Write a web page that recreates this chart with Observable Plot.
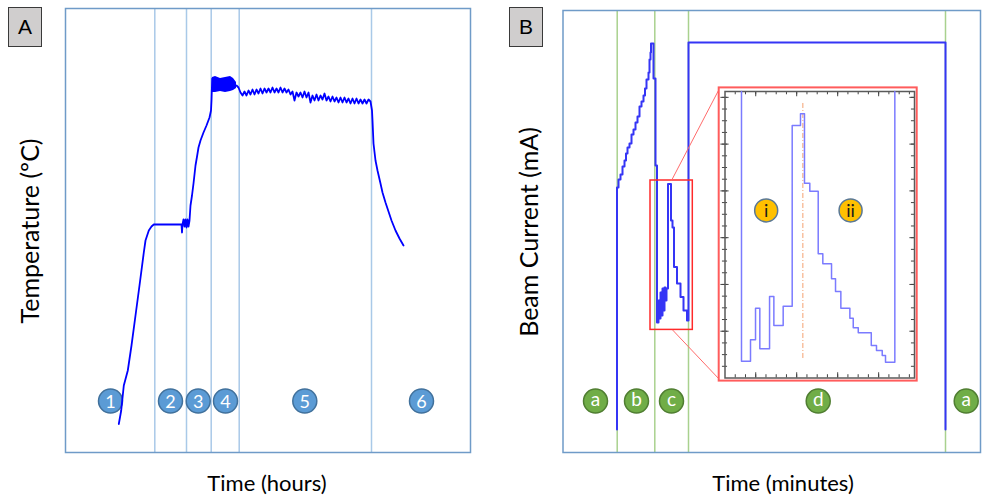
<!DOCTYPE html>
<html><head><meta charset="utf-8">
<script src="https://cdn.jsdelivr.net/npm/d3@7"></script>
<script src="https://cdn.jsdelivr.net/npm/@observablehq/plot@0.6"></script>
<style>
body{margin:0;background:#fff;}
#wrap{position:relative;width:983px;height:495px;overflow:hidden;font-family:Lato,"Open Sans",sans-serif;color:#000;}
#wrap svg{position:absolute;left:0;top:0;}
.lbl{position:absolute;white-space:nowrap;font-size:22px;transform:translate(-50%,-50%);}
.rot{transform:translate(-50%,-50%) rotate(-90deg);font-size:25px;}
.panel{position:absolute;box-sizing:border-box;width:34px;height:40px;border:1.5px solid #3a3a3a;background:#d0cece;font-size:21px;text-align:center;line-height:37px;font-family:"Liberation Sans",Arial,sans-serif;}
</style></head><body>
<div id="wrap"></div>
<script>
// ---------- Panel A : temperature vs time (hours) ----------
const tempHours = [1.066,1.114,1.166,1.246,1.32,1.40,1.48,1.566,1.60,1.666,1.72,1.766,
  2.32,2.33,2.34,2.36,2.38,2.40,2.42,2.44,2.46,2.48,
  2.50,2.53,2.56,2.60,2.634,2.66,2.70,2.76,2.82,2.88,2.91,2.92,2.934,
  3.42,3.46,3.50,3.54,
  3.58,3.62,3.66,3.70,3.74,3.78,3.82,3.86,3.90,3.94,3.98,4.02,4.06,4.10,4.14,4.18,
  4.22,4.26,4.30,4.34,4.38,4.42,4.46,4.50,4.54,4.58,4.62,4.66,4.70,4.74,4.78,4.82,
  4.86,4.90,4.94,4.98,5.02,5.06,5.10,5.14,5.18,5.22,5.26,5.30,5.34,5.38,5.42,5.46,
  5.50,5.54,5.58,5.62,5.66,5.70,5.74,5.78,5.82,5.86,5.90,5.94,5.98,6.02,6.06,6.10,
  6.13,6.14,6.16,6.20,6.24,6.30,6.34,6.40,6.46,6.52,6.60,6.68,6.76];
const tempValues = [57,84,134,164,214,274,334,400,424,444,452,456,
  456,440,456,466,452,466,450,466,452,464,
  494,514,538,574,594,610,624,640,654,670,684,704,748,
  734,730,720,714,
  722,714,724,716,726,716,726,718,728,718,728,720,728,720,730,720,
  728,720,730,720,728,720,726,716,722,704,720,712,720,710,722,710,
  720,700,714,704,716,704,714,706,718,704,712,702,712,702,710,700,
  710,700,710,700,708,698,708,698,708,698,706,698,706,698,706,702,
  684,664,618,584,564,538,520,500,482,464,444,428,414];
// fluctuating hold at peak temperature (envelope)
const bandHours = [2.94,3.00,3.10,3.20,3.30,3.36,3.42];
const bandLow   = [720,720,722,720,722,724,728];
const bandHigh  = [750,752,748,750,752,748,740];
const phaseHoursA = [1.786,2.42,2.914,3.474,6.12];
const stageLabelsA = ["1","2","3","4","5","6"];
const stageHoursA = [0.90,2.10,2.654,3.20,4.786,7.12];
const stageTempA = 103;

// ---------- Panel B : beam current vs time (minutes) ----------
const beamMinutes = [10.8,10.8,11.1,11.5,11.9,12.3,12.6,12.9,13.3,13.7,14.1,14.5,14.9,15.3,15.7,16.1,16.4,16.7,17.1,17.3,17.5,17.6,
  18.1,18.5,18.8,19.1,19.3,19.5,19.7,19.9,20.1,20.3,20.5,20.7,
  21.0,21.6,21.9,22.2,22.8,23.5,24.1,24.8,25.1,76.5];
const beamCurrent = [0,60.5,62.5,63.75,65.75,67.25,69,70.5,71.5,73.75,75,76.75,78.25,80.75,82,83.5,85.25,87.5,89.25,92.5,94.25,96.5,
  87.75,66,26.75,32.25,27.75,34.25,28.5,35.25,29.75,35.5,32.25,35.25,
  61.4,52.25,50.5,40.6,36.5,33.1,29.75,27.25,96.75,0];
const phaseMinutesB = [10.84,18.36,25.1,76.5];
const stageLabelsB = ["a","b","c","d","a"];
const stageMinutesB = [6.5,14.7,21.7,51.04,80.64];
const stageCurrentB = 7.1;
const zoomMinutes = [17.5,25.96];
const zoomCurrent = [24.9,62.25];
const connectorFromMinutes = [21.7,21.9];
const connectorFromCurrent = [62.25,24.9];
const connectorToMinutes = [31.3,31.3];
const connectorToCurrent = [85.25,12.5];
const insetBoxMinutes = [31.24,70.84];
const insetBoxCurrent = [12.1,85.4];

// ---------- Inset (zoom of region c) ----------
const insetTime = [1.61,1.61,2.49,2.98,3.40,4.35,4.77,5.68,6.56,7.37,7.76,8.28,9.10,9.55,10.40,10.79,11.31,12.19,12.52,13.01,14.28,14.79,15.35,15.67,16.58,16.58];
const insetCurrent = [24.5,1.44,3.27,5.97,2.50,6.97,4.49,6.14,21.60,22.60,16.66,15.98,10.62,9.77,8.49,7.40,5.97,5.12,4.29,3.87,2.78,2.35,1.92,1.35,1.35,24.5];
const insetCentreTime = [7.60];
const insetCentreSpan = [1.67,23.48];
const insetStageLabels = ["i","ii"];
const insetStageTime = [4.02,12.26];
const insetStageLevel = 14.33;
const insetMinorX = [1,2,3,4,5,6,7,8,9,10,11,12,13,14,15,16,17,18];
const insetMajorX = [3,7,11,15];
const insetMinorY = [1,2,3,4,5,6,7,8,9,10,11,12,13,14,15,16,17,18,19,20,21,22,23,24];
const insetMajorY = [4,8,12,16,20,24];

const W = 983, H = 495;
const common = {background: "transparent", overflow: "visible", fontFamily: "Lato, 'Open Sans', sans-serif"};
const wrap = document.getElementById("wrap");

const plotA = Plot.plot({
  width: W, height: H, marginLeft: 65, marginRight: 513, marginTop: 8, marginBottom: 43,
  x: {domain: [0, 8.1], axis: null}, y: {domain: [0, 888], axis: null},
  style: common,
  marks: [
    Plot.ruleX(phaseHoursA, {stroke: "#a9c9e8", strokeWidth: 1.5}),
    Plot.frame({stroke: "#6f9bc8", strokeWidth: 1.5}),
    Plot.dot(stageLabelsA, {x: (d,i) => stageHoursA[i], y: () => stageTempA, r: 12, fill: "#5B9BD5", stroke: "#41719C", strokeWidth: 1.5}),
    Plot.text(stageLabelsA, {x: (d,i) => stageHoursA[i], y: () => stageTempA, text: d => d, fill: "white", fontSize: 18, dy: 1}),
    Plot.areaY(bandLow, {x: (d,i) => bandHours[i], y1: d => d, y2: (d,i) => bandHigh[i], fill: "#0000ff"}),
    Plot.line(tempValues, {x: (d,i) => tempHours[i], y: d => d, stroke: "#0000ff", strokeWidth: 1.8})
  ]
});

const plotB = Plot.plot({
  width: W, height: H, marginLeft: 562.5, marginRight: 3, marginTop: 10, marginBottom: 43,
  x: {domain: [0, 83.5], axis: null}, y: {domain: [-5.75, 104.75], axis: null},
  style: common,
  marks: [
    Plot.ruleX(phaseMinutesB, {stroke: "#a9d18e", strokeWidth: 1.5}),
    Plot.frame({stroke: "#6f9bc8", strokeWidth: 1.5}),
    Plot.line(beamCurrent, {x: (d,i) => beamMinutes[i], y: d => d, curve: "step-after", stroke: "#3535f5", strokeWidth: 2}),
    Plot.dot(stageLabelsB, {x: (d,i) => stageMinutesB[i], y: () => stageCurrentB, r: 12, fill: "#70AD47", stroke: "#507E32", strokeWidth: 1.5}),
    Plot.text(stageLabelsB, {x: (d,i) => stageMinutesB[i], y: () => stageCurrentB, text: d => d, fill: "white", fontSize: 19, dy: -1}),
    Plot.rect([0], {x1: () => zoomMinutes[0], x2: () => zoomMinutes[1], y1: () => zoomCurrent[0], y2: () => zoomCurrent[1], fill: "none", stroke: "#ff2a2a", strokeWidth: 1.5}),
    Plot.link([0,1], {x1: i => connectorFromMinutes[i], y1: i => connectorFromCurrent[i], x2: i => connectorToMinutes[i], y2: i => connectorToCurrent[i], stroke: "#ff6b6b", strokeWidth: 1}),
    Plot.rect([0], {x1: () => insetBoxMinutes[0], x2: () => insetBoxMinutes[1], y1: () => insetBoxCurrent[0], y2: () => insetBoxCurrent[1], fill: "white", stroke: "#ff5c5c", strokeWidth: 2})
  ]
});

const plotInset = Plot.plot({
  width: W, height: H, marginLeft: 724.5, marginRight: 69, marginTop: 91, marginBottom: 117.5,
  x: {domain: [0, 18.5], axis: null}, y: {domain: [0, 24.5], axis: null},
  style: common,
  marks: [
    Plot.ruleX(insetMinorX, {x: d => d, y1: () => 0, y2: () => 0.28, stroke: "#444", strokeWidth: 1}),
    Plot.ruleX(insetMajorX, {x: d => d, y1: () => 0, y2: () => 0.45, stroke: "#444", strokeWidth: 1}),
    Plot.ruleX(insetMinorX, {x: d => d, y1: () => 24.22, y2: () => 24.5, stroke: "#444", strokeWidth: 1}),
    Plot.ruleX(insetMajorX, {x: d => d, y1: () => 24.05, y2: () => 24.5, stroke: "#444", strokeWidth: 1}),
    Plot.ruleY(insetMinorY, {y: d => d, x1: () => -0.25, x2: () => 0.25, stroke: "#444", strokeWidth: 1}),
    Plot.ruleY(insetMajorY, {y: d => d, x1: () => -0.4, x2: () => 0.4, stroke: "#444", strokeWidth: 1}),
    Plot.ruleY(insetMinorY, {y: d => d, x1: () => 18.2, x2: () => 18.5, stroke: "#444", strokeWidth: 1}),
    Plot.ruleY(insetMajorY, {y: d => d, x1: () => 18.05, x2: () => 18.5, stroke: "#444", strokeWidth: 1}),
    Plot.frame({stroke: "#5a5a5a", strokeWidth: 1.5}),
    Plot.ruleX(insetCentreTime, {x: d => d, y1: () => insetCentreSpan[0], y2: () => insetCentreSpan[1], stroke: "#f4a070", strokeWidth: 1, strokeDasharray: "5,2,1,2"}),
    Plot.line(insetCurrent, {x: (d,i) => insetTime[i], y: d => d, curve: "step-after", stroke: "#7b7bff", strokeWidth: 1.5}),
    Plot.dot(insetStageLabels, {x: (d,i) => insetStageTime[i], y: () => insetStageLevel, r: 11.5, fill: "#FFC000", stroke: "#5a7896", strokeWidth: 1.5}),
    Plot.text(insetStageLabels, {x: (d,i) => insetStageTime[i], y: () => insetStageLevel, text: d => d, fill: "#1a1a1a", fontSize: 18, dy: 1})
  ]
});

wrap.append(plotA, plotB, plotInset);

function addDiv(cls, text, left, top) {
  const d = document.createElement("div");
  d.className = cls; d.textContent = text;
  d.style.left = left + "px"; d.style.top = top + "px";
  wrap.appendChild(d);
}
addDiv("panel", "A", 8, 7);
addDiv("panel", "B", 509, 7);
addDiv("lbl rot", "Temperature (ºC)", 29, 231);
addDiv("lbl rot", "Beam Current (mA)", 528, 232);
addDiv("lbl", "Time (hours)", 267, 482);
addDiv("lbl", "Time (minutes)", 783, 482);
</script>
</body></html>
